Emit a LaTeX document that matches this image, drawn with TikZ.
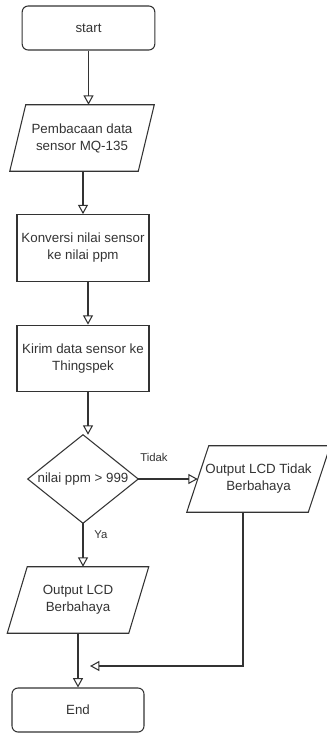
\documentclass[tikz,border=0pt]{standalone}
\usepackage{fontspec}
\setmainfont{Liberation Sans}
\usetikzlibrary{arrows.meta,calc}
\begin{document}
\begin{tikzpicture}[x=0.75pt,y=-0.75pt,
  every node/.style={text=black!80, font=\fontsize{10}{12.75}\selectfont, inner sep=0pt, align=center},
  edgecol/.style={draw=black!80, line width=0.8pt},
  term/.style={edgecol, rectangle, rounded corners=4.5pt, minimum width=99.5pt, minimum height=33pt},
  procbox/.style={edgecol, rectangle, minimum width=99pt, minimum height=50pt},
  iobox/.style={rectangle, draw=none, minimum width=90.75pt, minimum height=49.5pt},
  decbox/.style={rectangle, draw=none, minimum width=82.5pt, minimum height=66pt},
  lbl/.style={font=\fontsize{8.5}{10}\selectfont},
  arr/.style={edgecol, -{Triangle[open, length=7pt, width=7.5pt]}},
  plain/.style={edgecol}
]
\useasboundingbox (0,0) rectangle (327,733);

\node[term] (start) at (88.5,28) {start};
\node[iobox, minimum width=96pt] (p1) at (82,138) {Pembacaan data\\sensor MQ-135};
\node[procbox] (r1) at (83,248) {Konversi nilai sensor\\ke nilai ppm};
\node[procbox] (r2) at (83,358.5) {Kirim data sensor ke\\Thingspek};
\node[decbox] (d) at (83,479) {nilai ppm > 999};
\node[iobox] (p2) at (258.5,479) {Output LCD Tidak\\Berbahaya};
\node[iobox] (p3) at (78,600) {Output LCD\\Berbahaya};
\node[term, minimum width=99pt] (e) at (78,710) {End};
\coordinate (m) at (90,666);

% parallelograms and diamond outlines
\draw[edgecol] ([xshift=6pt]p1.north west) -- ([xshift=6pt]p1.north east) -- ([xshift=-6pt]p1.south east) -- ([xshift=-6pt]p1.south west) -- cycle;
\draw[edgecol] ([xshift=8.25pt]p2.north west) -- ([xshift=8.25pt]p2.north east) -- ([xshift=-8.25pt]p2.south east) -- ([xshift=-8.25pt]p2.south west) -- cycle;
\draw[edgecol] ([xshift=7.5pt]p3.north west) -- ([xshift=7.5pt]p3.north east) -- ([xshift=-7.5pt]p3.south east) -- ([xshift=-7.5pt]p3.south west) -- cycle;
\draw[edgecol] (d.north) -- (d.east) -- (d.south) -- (d.west) -- cycle;

% labels
\node[lbl] (tidak) at (154,457) {Tidak};
\node[lbl] (ya) at (101,535) {Ya};

% connectors
\draw[arr] (start.south) -- (start.south |- p1.north);
\draw[arr] (r1.north |- p1.south) -- (r1.north);
\draw[arr] ([xshift=3.75pt]r1.south) -- ([xshift=3.75pt]r2.north);
\draw[arr] ([xshift=3.75pt]r2.south) -- ([xshift=3.75pt]d.north);
\draw[arr] (d.east) -- (p2.west);
\draw[arr] (d.south) -- (d.south |- p3.north);
\draw[arr] (p3.south) -- (e.north);
\draw[arr] ([xshift=-11.625pt]p2.south) |- (m);
\end{tikzpicture}
\end{document}
